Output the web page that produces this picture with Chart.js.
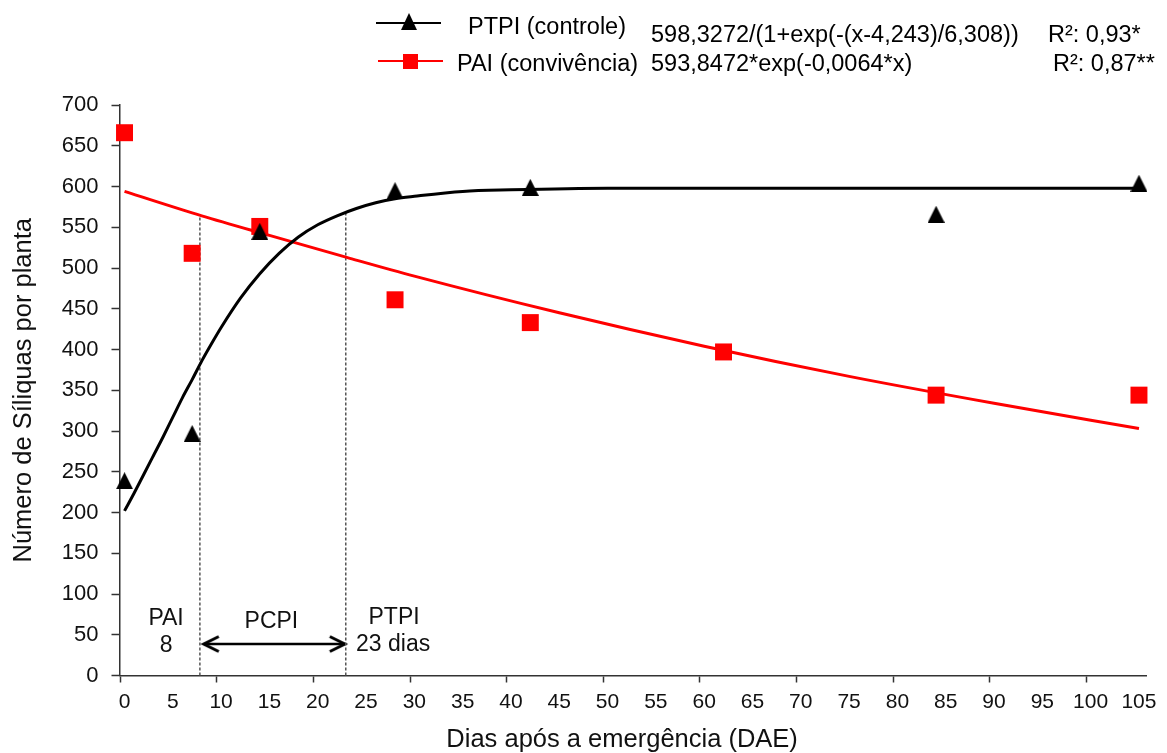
<!DOCTYPE html>
<html>
<head>
<meta charset="utf-8">
<script src="https://cdn.jsdelivr.net/npm/chart.js@4.4.1/dist/chart.umd.min.js"></script>
<style>
html,body{margin:0;padding:0;background:#fff;}
#wrap{position:relative;width:1167px;height:753px;overflow:hidden;background:#fff;}
#c{position:absolute;left:0;top:0;}
.lg{position:absolute;font-family:'Liberation Sans',Arial,sans-serif;font-size:23.5px;line-height:24px;color:#000;white-space:nowrap;}
.sym{position:absolute;}
</style>
</head>
<body>
<div id="wrap">
<canvas id="c" width="1167" height="753"></canvas>
<div class="sym" style="left:376px;top:21.5px;width:65px;height:2.5px;background:#000"></div>
<div class="sym" style="left:401px;top:13px;width:16px;height:17px;background:#000;clip-path:polygon(50% 0,100% 100%,0 100%)"></div>
<div class="lg" style="left:468px;top:14px">PTPI (controle)</div>
<div class="lg" style="left:651px;top:21.5px">598,3272/(1+exp(-(x-4,243)/6,308))</div>
<div class="lg" style="left:1048px;top:21.5px">R²: 0,93*</div>
<div class="sym" style="left:378px;top:59.5px;width:65px;height:2.5px;background:#f00"></div>
<div class="sym" style="left:403px;top:53.5px;width:15px;height:15px;background:#f00"></div>
<div class="lg" style="left:457px;top:51px">PAI (convivência)</div>
<div class="lg" style="left:651px;top:50.5px">593,8472*exp(-0,0064*x)</div>
<div class="lg" style="left:1053px;top:50.5px">R²: 0,87**</div>
</div>
<script>
// ---- data ----
const ptpiDays = [0, 7, 14, 28, 42, 84, 105];
const ptpiObserved = [239, 297, 545, 595, 599, 566, 604];

const paiDays = [0, 7, 14, 28, 42, 62, 84, 105];
const paiObserved = [666, 518, 551, 461, 433, 397, 344, 344];

const ptpiCurveDays = [0, 1, 2, 3, 4, 5, 6, 7, 8, 9, 10, 12, 14, 16, 18, 20, 22, 24, 26, 28, 30, 35, 40, 50, 60, 80, 105];
const ptpiCurveValues = [202, 224, 247, 270, 293, 317, 341, 363, 386, 407, 427, 463, 493, 518, 538, 553, 564, 573, 580, 585, 588, 594, 596, 598, 598, 598, 598];

const paiCurveDays = [0, 8, 15, 23, 30, 45, 60, 75, 90, 105];
const paiCurveValues = [594, 564, 540, 513, 490, 445, 404, 367, 334, 303];

const criticalDays = [7.8, 22.9];
const criticalTops = [565, 569];

const pcpiArrowDays = [8.2, 22.8];
const pcpiArrowLevels = [38.6, 38.6];

const noteTexts = ['PAI', '8', 'PCPI', 'PTPI', '23 dias'];
const noteDays = [4.3, 4.3, 15.2, 27.9, 27.8];
const noteLevels = [70, 36.5, 66, 71.5, 37.4];

const xTickLabels = [0, 5, 10, 15, 20, 25, 30, 35, 40, 45, 50, 55, 60, 65, 70, 75, 80, 85, 90, 95, 100, 105];
const yTickLabels = [0, 50, 100, 150, 200, 250, 300, 350, 400, 450, 500, 550, 600, 650, 700];

const xTitle = 'Dias após a emergência (DAE)';
const yTitle = 'Número de Síliquas por planta';

// ---- helpers ----
const FONT = "'Liberation Sans', Arial, sans-serif";
const pairs = (xs, ys) => xs.map((x, i) => ({x: x, y: ys[i]}));

function triCanvas(w, h, color) {
  const c = document.createElement('canvas'); c.width = w; c.height = h;
  const g = c.getContext('2d'); g.fillStyle = color;
  g.beginPath(); g.moveTo(w / 2, 0); g.lineTo(w, h); g.lineTo(0, h); g.closePath(); g.fill();
  return c;
}
function headCanvas(dir) {
  const c = document.createElement('canvas'); c.width = 44; c.height = 24;
  const g = c.getContext('2d'); g.strokeStyle = '#000'; g.lineWidth = 3;
  const cx = 22, cy = 12;
  g.beginPath(); g.moveTo(cx - dir * 15, cy - 7.5); g.lineTo(cx, cy); g.lineTo(cx - dir * 15, cy + 7.5); g.stroke();
  return c;
}

const dashedSets = criticalDays.map((d, i) => ({
  type: 'line',
  data: [{x: d, y: 0}, {x: d, y: criticalTops[i]}],
  borderColor: '#555', borderWidth: 1.5, borderDash: [3, 2],
  pointRadius: 0, showLine: true, order: 6, clip: false
}));

const notesPlugin = {
  id: 'notes',
  afterDatasetsDraw(chart) {
    const {ctx, chartArea, scales: {x, y}} = chart;
    ctx.save();
    ctx.font = '23px ' + FONT;
    ctx.fillStyle = '#111';
    ctx.textAlign = 'center';
    ctx.textBaseline = 'middle';
    noteTexts.forEach((t, i) => ctx.fillText(t, x.getPixelForValue(noteDays[i]), y.getPixelForValue(noteLevels[i])));
    // x-axis title, slightly left of the plot centre as in the reference
    ctx.font = '25.5px ' + FONT;
    ctx.textBaseline = 'alphabetic';
    ctx.fillText(xTitle, (chartArea.left + chartArea.right) / 2 - 11, chart.height - 6);
    ctx.restore();
  }
};

new Chart(document.getElementById('c'), {
  type: 'scatter',
  data: {
    datasets: [
      {
        label: 'PTPI (controle)',
        data: pairs(ptpiDays, ptpiObserved),
        pointStyle: triCanvas(17, 17, '#000'), pointRadius: 8,
        backgroundColor: '#000', borderColor: '#000', showLine: false, order: 0, clip: false
      },
      {
        label: 'PAI (convivência)',
        data: pairs(paiDays, paiObserved),
        pointStyle: 'rect', pointRadius: 12, borderWidth: 0,
        backgroundColor: '#f00', borderColor: '#f00', showLine: false, order: 1, clip: false
      },
      {
        type: 'line',
        data: pairs(ptpiCurveDays, ptpiCurveValues),
        borderColor: '#000', borderWidth: 3, pointRadius: 0,
        cubicInterpolationMode: 'monotone', showLine: true, order: 2, clip: false
      },
      {
        type: 'line',
        data: pairs(paiCurveDays, paiCurveValues),
        borderColor: '#f00', borderWidth: 3, pointRadius: 0,
        cubicInterpolationMode: 'monotone', showLine: true, order: 3, clip: false
      },
      ...dashedSets,
      {
        type: 'line',
        data: pairs(pcpiArrowDays, pcpiArrowLevels),
        borderColor: '#000', borderWidth: 2.5,
        pointStyle: [headCanvas(-1), headCanvas(1)], pointRadius: 6,
        showLine: true, order: 7, clip: false
      }
    ]
  },
  options: {
    responsive: false,
    animation: false,
    events: [],
    layout: {padding: {top: 105, right: 20.3, left: 0, bottom: 0}},
    plugins: {legend: {display: false}, tooltip: {enabled: false}},
    scales: {
      x: {
        type: 'linear', min: -0.52, max: 105.8,
        afterBuildTicks(scale) { scale.ticks = xTickLabels.map(v => ({value: v - 0.45})); },
        afterFit(scale) { scale.height = 77.5; },
        ticks: {
          autoSkip: false, maxRotation: 0, minRotation: 0, padding: 7, labelOffset: 4.3,
          color: '#111', font: {family: FONT, size: 21},
          callback: (v, i) => String(xTickLabels[i])
        },
        grid: {
          drawOnChartArea: false, drawTicks: true, tickLength: 7, tickWidth: 1.5,
          tickColor: (ctx) => (ctx.tick && ctx.index % 2 === 0) ? '#333' : 'rgba(0,0,0,0)'
        },
        border: {display: true, color: '#333', width: 1.5},
        title: {display: false}
      },
      y: {
        type: 'linear', min: 0, max: 700,
        afterBuildTicks(scale) { scale.ticks = yTickLabels.map(v => ({value: v})); },
        afterFit(scale) { scale.width = 119.5; },
        ticks: {
          padding: 13, color: '#111', font: {family: FONT, size: 22},
          callback: (v) => String(v)
        },
        grid: {drawOnChartArea: false, drawTicks: true, tickLength: 8, tickWidth: 1.5, tickColor: '#333'},
        border: {display: true, color: '#333', width: 1.5},
        title: {
          display: true, text: yTitle, color: '#111',
          font: {family: FONT, size: 25.5}, padding: {top: 9, bottom: 0}
        }
      }
    }
  },
  plugins: [notesPlugin]
});
</script>
</body>
</html>
